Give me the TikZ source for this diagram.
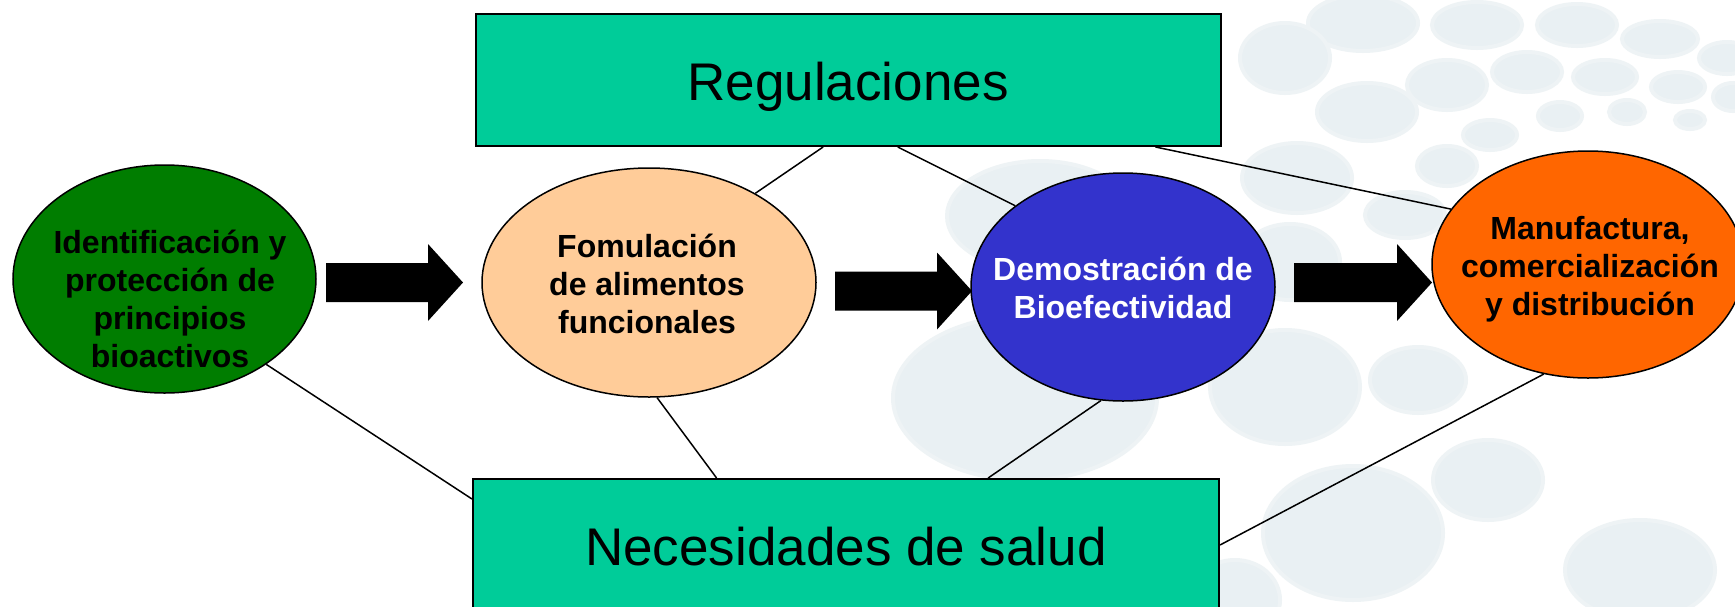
\documentclass[tikz,border=0pt]{standalone}
\usepackage{fontspec}
\setmainfont{Liberation Sans}
\usetikzlibrary{shapes.geometric,calc}
\definecolor{boxgreen}{RGB}{0,204,153}
\definecolor{darkgreen}{RGB}{0,125,0}
\definecolor{peach}{RGB}{255,204,153}
\definecolor{royal}{RGB}{51,51,204}
\definecolor{orng}{RGB}{255,102,0}
\definecolor{blob}{RGB}{233,240,243}
\definecolor{blobedge}{RGB}{238,243,245}
\newcommand\blockarr[3]{\fill[black] (#1,#3-19.5) -- (#2-35,#3-19.5) -- (#2-35,#3-38.5) -- (#2,#3) -- (#2-35,#3+38.5) -- (#2-35,#3+19.5) -- (#1,#3+19.5) -- cycle;}
\begin{document}
\begin{tikzpicture}[x=0.5pt,y=-0.5pt,
  stage/.style={ellipse, draw=black, line width=0.75pt, inner sep=0pt},
  bigbox/.style={rectangle, draw=black, line width=1pt, fill=boxgreen, inner sep=0pt},
  link/.style={draw=black, line width=0.75pt},
  bubble/.style={fill=blob, draw=blobedge, line width=2pt},
  stagetext/.style={inner sep=0pt, anchor=base, font=\bfseries\fontsize{16}{19}\selectfont},
  boxtext/.style={inner sep=0pt, anchor=base, font=\fontsize{26.5}{30}\selectfont}]
\useasboundingbox (0,0) rectangle (1735,606);
\clip (0,0) rectangle (1735,606);
\fill[white] (0,0) rectangle (1735,606);
% background bubbles
\foreach \cx/\cy/\rx/\ry in {1363/23/55/28, 1477/25/45/23, 1577/25/40/21, 1660/39/38/18, 1727/58/28/16,
  1285/58/45/35, 1447/85/40/25, 1527/72/35/20, 1605/77/32/17, 1678/87/27/15, 1733/97/20/14,
  1367/112/50/29, 1490/135/27/15, 1560/116/22/14, 1627/112/18/12, 1690/120/15/9,
  1297/178/55/35, 1447/166/30/20, 1405/215/40/23, 1290/262/50/38,
  1040/216/93/55, 1025/398/132/82, 1285/387/75/57, 1418/380/48/33, 1488/480/55/40,
  1353/533/90/67, 1640/570/75/50, 1235/600/45/40}
  \path[bubble] (\cx,\cy) ellipse [x radius=\rx, y radius=\ry];
% boxes
\node[bigbox, minimum width=372.5pt, minimum height=66pt] (reg) at (848.5,80) {};
\node[bigbox, minimum width=373pt, minimum height=75pt] (nec) at (846,554) {};
% stages
\node[stage, fill=darkgreen, minimum width=151.5pt, minimum height=114pt] (idt) at (164.5,279) {};
\node[stage, fill=peach, minimum width=167pt, minimum height=114.5pt] (fom) at (649,282.5) {};
\node[stage, fill=royal, minimum width=152pt, minimum height=114pt] (dem) at (1123,287) {};
\node[stage, fill=orng, minimum width=156pt, minimum height=113.5pt] (man) at (1588,264.5) {};
% links
\draw[link] ($(reg.south west)!0.466!(reg.south east)$) -- (fom.40.7);
\draw[link] ($(reg.south west)!0.566!(reg.south east)$) -- (dem.143.5);
\draw[link] ($(reg.south west)!0.911!(reg.south east)$) -- (man.158.2);
\draw[link] (idt.-40) -- ($(nec.north west)+(0,21)$);
\draw[link] (fom.-86) -- ($(nec.north west)!0.327!(nec.north east)$);
\draw[link] (dem.-101.4) -- ($(nec.north west)!0.690!(nec.north east)$);
\draw[link] (man.-112.8) -- ($(nec.north east)+(0,67)$);
% block arrows
\blockarr{326}{463}{282.5}
\blockarr{835}{972}{291}
\blockarr{1294}{1432}{282.5}
% texts
\node[boxtext] (treg) at (848,100) {Regulaciones};
\node[boxtext] (tnec) at (846,565) {Necesidades de salud};
\node[stagetext] (tidt) at (170,253) {\parbox[t]{170pt}{\centering Identificación y\\protección de\\principios\\bioactivos}};
\node[stagetext] (tfom) at (647,257) {\parbox[t]{170pt}{\centering Fomulación\\de alimentos\\funcionales}};
\node[stagetext, text=white] (tdem) at (1123,280) {\parbox[t]{170pt}{\centering Demostración de\\Bioefectividad}};
\node[stagetext] (tman) at (1590,239) {\parbox[t]{170pt}{\centering Manufactura,\\comercialización\\y distribución}};
\end{tikzpicture}
\end{document}
